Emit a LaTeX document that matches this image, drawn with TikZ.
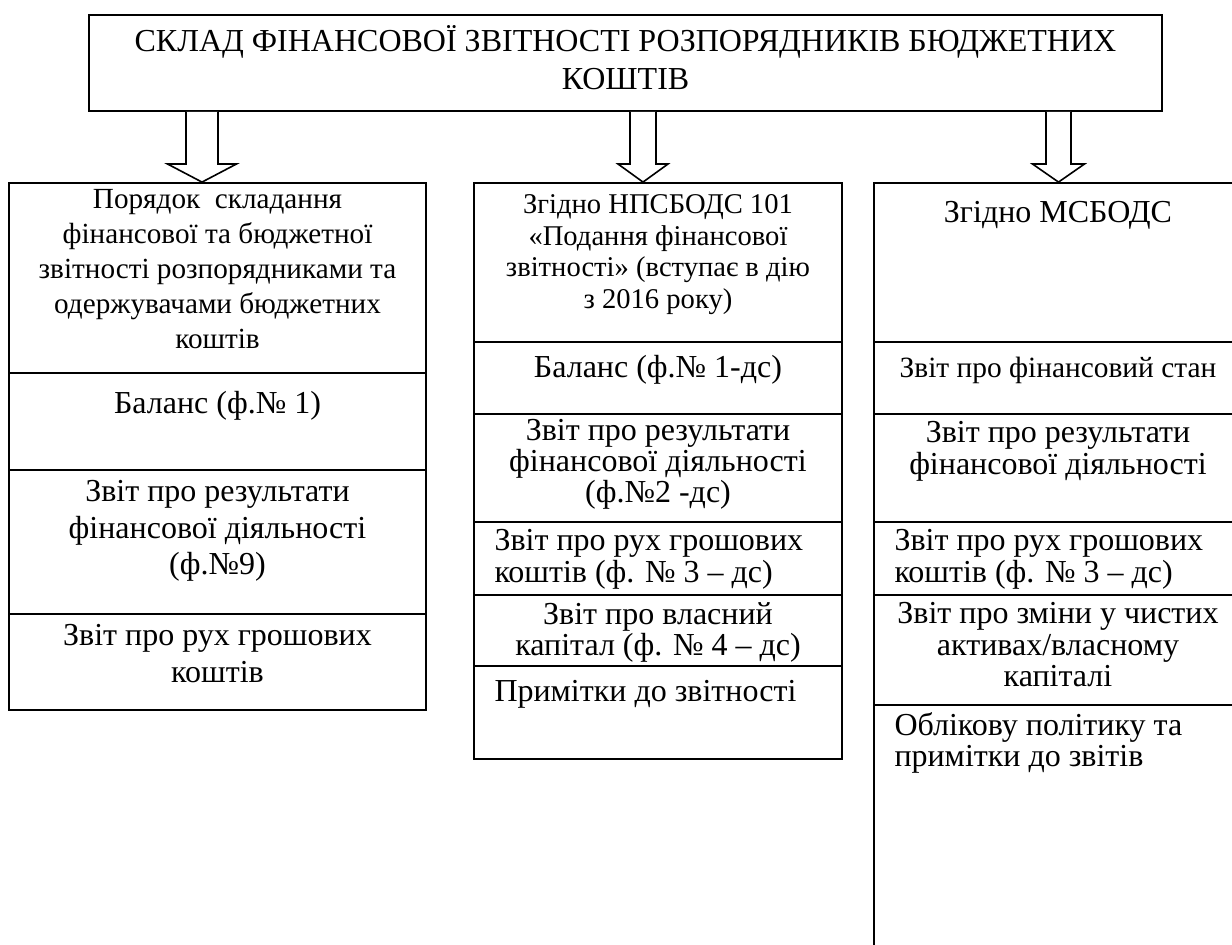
\documentclass[tikz,border=0pt]{standalone}
\usepackage{fontspec}
\setmainfont{Liberation Serif}
\usetikzlibrary{fit}

\begin{document}
\begin{tikzpicture}[
    x=0.5pt, y=-0.5pt,
    cell/.style={draw, line width=0.9pt, inner sep=0pt},
    hollow/.style={draw, line width=0.8pt, fill=white},
    txt/.style={anchor=north, yshift=-5.5pt, inner sep=0pt, align=center,
                execute at begin node={\rule{0pt}{14pt}}},
    txtl/.style={txt, anchor=north west, xshift=10.5pt, align=left},
    colL/.style={font=\fontsize{16}{18.25}\selectfont},
    colLH/.style={font=\fontsize{14.6}{17.5}\selectfont},
    colM/.style={font=\fontsize{16}{15.75}\selectfont},
    colMH/.style={font=\fontsize{14.3}{15.75}\selectfont},
    ttl/.style={anchor=north, yshift=-5.5pt, inner sep=0pt, align=center,
                font=\fontsize{16}{19}\selectfont,
                execute at begin node={\rule{0pt}{14pt}}},
]
\clip (0,0) rectangle (1232,945);

% ===================== Заголовок =====================
\node[cell, fit={(89,15) (1162,111)}] (top) {};
\node[ttl] (topt) at (top.north)
      {СКЛАД ФІНАНСОВОЇ ЗВІТНОСТІ РОЗПОРЯДНИКІВ БЮДЖЕТНИХ\\КОШТІВ};

% ===================== Ліва колонка =====================
\foreach \n/\ya/\yb in {L0/183/373, L1/373/470, L2/470/614, L3/614/710} {
    \node[cell, fit={(9,\ya) (426,\yb)}] (\n) {};
}
\node[txt, colLH, yshift=2pt] (L0t) at (L0.north) {Порядок~ складання\\фінансової та бюджетної\\звітності розпорядниками та\\одержувачами бюджетних\\коштів};
\node[txt, colL, yshift=-1pt] (L1t) at (L1.north) {Баланс (ф.№ 1)};
\node[txt, colL] (L2t) at (L2.north) {Звіт про результати\\фінансової діяльності\\(ф.№9)};
\node[txt, colL] (L3t) at (L3.north) {Звіт про рух грошових\\коштів};

% ===================== Середня колонка =====================
\foreach \n/\ya/\yb in {M0/183/342, M1/342/414, M2/414/522, M3/522/595, M4/595/666, M5/666/759} {
    \node[cell, fit={(474,\ya) (842,\yb)}] (\n) {};
}
\node[txt, colMH, yshift=-0.5pt] (M0t) at (M0.north) {Згідно НПСБОДС 101\\«Подання фінансової\\звітності» (вступає в дію\\з 2016 року)};
\node[txt, colM, yshift=1.5pt] (M1t) at (M1.north) {Баланс (ф.№ 1-дс)};
\node[txt, colM, font=\fontsize{16}{15.5}\selectfont, yshift=2.5pt] (M2t) at (M2.north) {Звіт про результати\\фінансової діяльності\\(ф.№2 -дс)};
\node[txtl, colM, yshift=1.5pt] (M3t) at (M3.north west) {Звіт про рух грошових\\коштів (ф. № 3 – дс)};
\node[txt, colM, yshift=1.5pt] (M4t) at (M4.north) {Звіт про власний\\капітал (ф. № 4 – дс)};
\node[txtl, colM, yshift=1.5pt] (M5t) at (M5.north west) {Примітки до звітності};

% ===================== Права колонка =====================
\foreach \n/\ya/\yb in {R0/183/342, R1/342/414, R2/414/522, R3/522/595, R4/595/705, R5/705/970} {
    \node[cell, fit={(874,\ya) (1242,\yb)}] (\n) {};
}
\node[txt, colM, yshift=-0.5pt] (R0t) at (R0.north) {Згідно МСБОДС};
\node[txt, colM, font=\fontsize{14.7}{16}\selectfont, yshift=1.5pt] (R1t) at (R1.north) {Звіт про фінансовий стан};
\node[txt, colM, yshift=1.5pt] (R2t) at (R2.north) {Звіт про результати\\фінансової діяльності};
\node[txtl, colM, yshift=1.5pt] (R3t) at (R3.north west) {Звіт про рух грошових\\коштів (ф. № 3 – дс)};
\node[txt, colM, yshift=1.5pt] (R4t) at (R4.north) {Звіт про зміни у чистих\\активах/власному\\капіталі};
\node[txtl, colM, yshift=1.5pt] (R5t) at (R5.north west) {Облікову політику та\\примітки до звітів};

% ===================== Стрілки =====================
\foreach \c/\s/\h/\n in {202/16/34.5/L0, 643/13/25/M0, 1058.5/12.5/26/R0} {
    \draw[hollow] ({\c-\s},0 |- top.south) -- ({\c-\s},164) -- ({\c-\h},164)
        -- ({\c},0 |- \n.north) -- ({\c+\h},164) -- ({\c+\s},164)
        -- ({\c+\s},0 |- top.south);
}

\end{tikzpicture}
\end{document}
